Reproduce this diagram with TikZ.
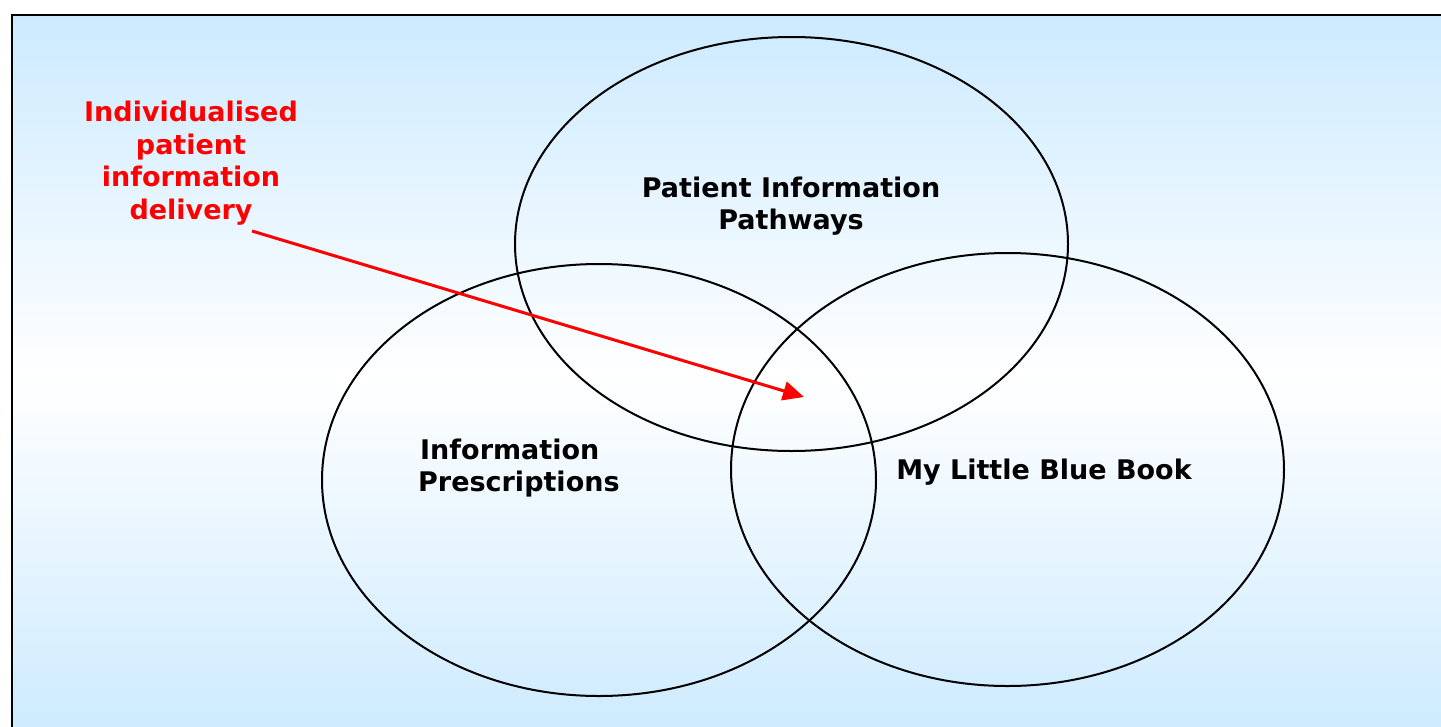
\documentclass[tikz,border=0pt]{standalone}
\usepackage{fontspec}
\setmainfont{DejaVu Sans}
\usetikzlibrary{shapes.geometric,arrows.meta}
\definecolor{bgblue}{RGB}{204,234,255}
\definecolor{redtxt}{RGB}{255,0,0}
\tikzset{
  venn/.style={ellipse,draw=black,line width=2pt,inner sep=0pt,minimum width=#1},
  lbl/.style={font=\fontsize{27}{32.5}\selectfont\bfseries,align=center,text=black},
  redlbl/.style={lbl,text=redtxt},
  redarrow/.style={draw=redtxt,line width=3pt,-{Triangle[length=21pt,width=19pt]}}
}
\begin{document}
\begin{tikzpicture}[x=1pt,y=-1pt]
\useasboundingbox (0,0) rectangle (1441,726);
\begin{scope}
\clip (0,0) rectangle (1441,726);
\shade[top color=bgblue,bottom color=bgblue,middle color=white] (12,15) rectangle (1460,740);
\draw[line width=2.4pt] (12,750) -- (12,15) -- (1460,15);
\end{scope}
\node[venn=553pt,minimum height=414pt] (pip) at (791.5,244) {};
\node[venn=554pt,minimum height=432pt] (ip) at (599,480) {};
\node[venn=553pt,minimum height=433pt] (mlbb) at (1007.5,469.5) {};
\node[lbl] (tpip) at (791,206) {Patient Information\\Pathways};
\node[lbl,align=left,anchor=west,inner sep=0pt] (tip) at (418,468) {\hspace{2pt}Information\\Prescriptions};
\node[lbl] (tmlbb) at (1044,472) {My Little Blue Book};
\node[redlbl] (tind) at (191,163) {Individualised\\patient\\information\\delivery};
\coordinate (astart) at (252,231);
\coordinate (aend) at (804,397);
\draw[redarrow] (astart) -- (aend);
\end{tikzpicture}
\end{document}
